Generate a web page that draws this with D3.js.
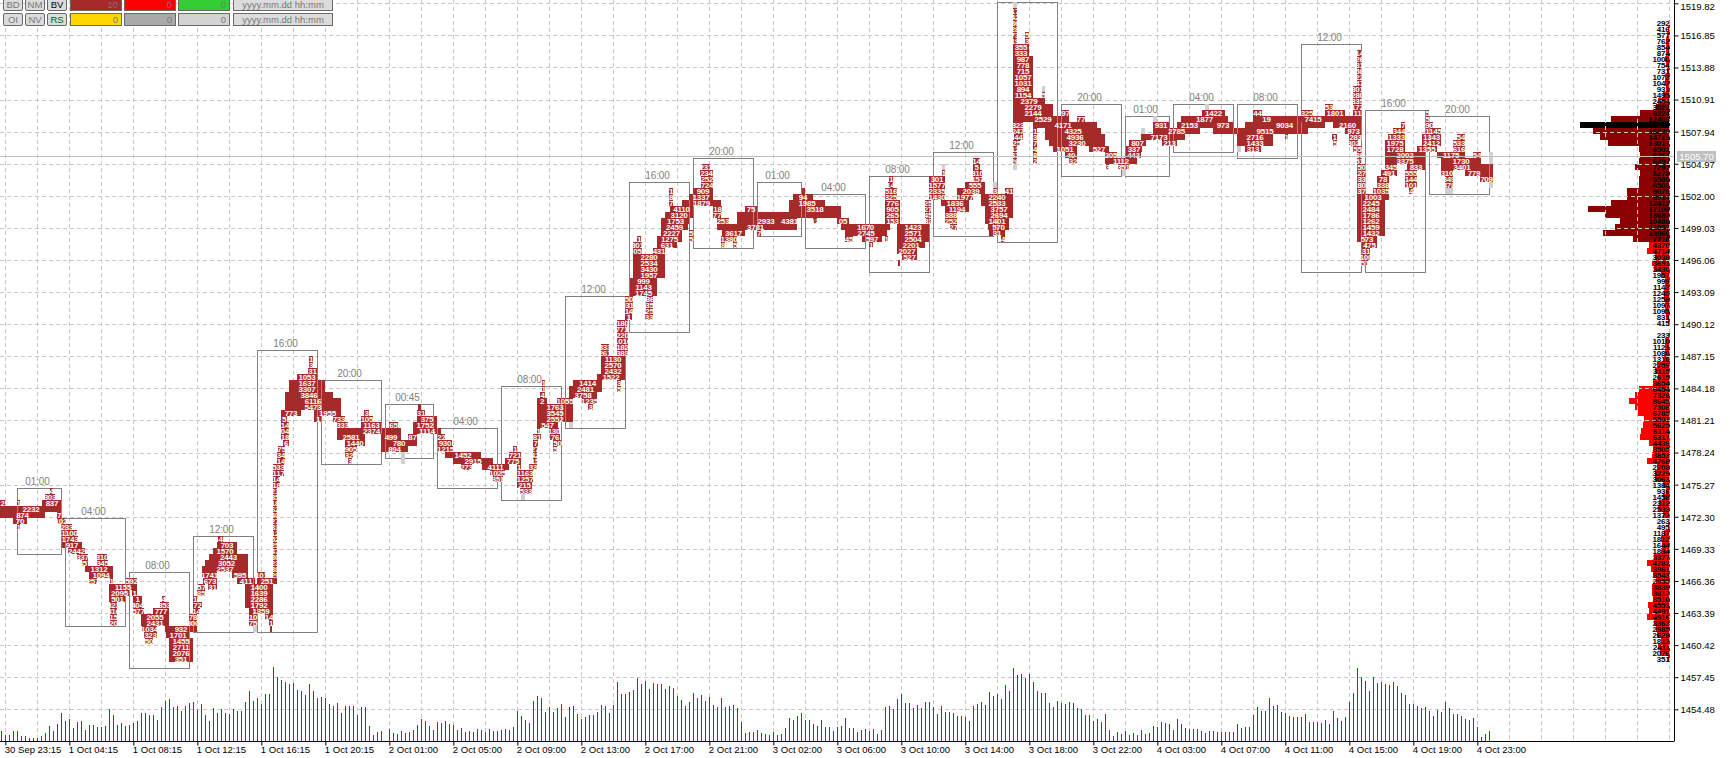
<!DOCTYPE html>
<html><head><meta charset="utf-8">
<script src="https://cdnjs.cloudflare.com/ajax/libs/d3/7.8.5/d3.min.js"></script>
<style>html,body{margin:0;padding:0;background:#fff;overflow:hidden}svg{display:block}text{font-family:"Liberation Sans",Arial,sans-serif}</style>
</head><body><svg id="c" width="1730" height="758"></svg>
<script>
// ---------- price axis
const priceTicks=[1519.82,1516.85,1513.88,1510.91,1507.94,1504.97,1502.00,1499.03,1496.06,1493.09,1490.12,1487.15,1484.18,1481.21,1478.24,1475.27,1472.30,1469.33,1466.36,1463.39,1460.42,1457.45,1454.48];
const bidPrice=1505.70;
const levelZeroPrice=1508.557, levelStep=0.5553;
// ---------- time axis (bar numbers and their labels)
const timeTickBars=[1,17,33,49,65,81,97,113,129,145,161,177,193,209,225,241,257,273,289,305,321,337,353,369];
const timeTickLabels=["30 Sep 23:15","1 Oct 04:15","1 Oct 08:15","1 Oct 12:15","1 Oct 16:15","1 Oct 20:15","2 Oct 01:00","2 Oct 05:00","2 Oct 09:00","2 Oct 13:00","2 Oct 17:00","2 Oct 21:00","3 Oct 02:00","3 Oct 06:00","3 Oct 10:00","3 Oct 14:00","3 Oct 18:00","3 Oct 22:00","4 Oct 03:00","4 Oct 07:00","4 Oct 11:00","4 Oct 15:00","4 Oct 19:00","4 Oct 23:00"];
// ---------- volume per bar
const volumes=[29,19,17,29,31,14,14,8,10,8,14,23,44,29,50,83,59,66,40,56,59,32,47,47,41,42,44,96,77,47,54,45,47,55,59,83,84,77,78,62,101,120,125,102,106,90,105,113,116,92,112,77,59,99,83,96,85,80,95,89,89,116,149,120,130,112,142,140,221,193,184,176,172,174,154,149,137,170,149,129,132,129,110,104,114,83,104,106,106,79,101,101,44,17,26,29,0,35,
24,22,31,25,28,34,49,67,61,46,34,58,55,61,52,49,34,40,28,31,28,37,34,28,37,31,31,34,37,34,43,91,76,64,55,121,136,130,88,103,88,100,112,73,103,106,82,67,73,79,79,88,109,106,85,109,178,142,142,148,154,190,172,181,157,175,172,172,157,166,160,136,124,106,118,145,130,139,121,133,109,103,130,103,106,109,100,58,25,28,28,34,25,22,19,28,19,22,40,70,64,76,85,64,64,52,46,64,43,43,31,43,46,70,40,40,28,34,37,31,37,22,34,103,106,97,127,142,115,115,
100,109,100,118,118,103,82,106,88,88,85,76,76,73,61,106,112,118,109,148,136,142,127,169,151,220,199,202,190,202,178,151,145,145,115,103,121,115,112,118,115,100,97,79,79,61,67,58,82,34,16,28,22,31,19,25,19,34,22,25,46,43,58,55,52,34,67,52,40,37,37,37,31,25,31,31,28,28,28,28,28,
52,40,43,43,79,103,91,91,130,106,109,88,85,76,73,73,73,82,58,58,58,55,64,52,91,70,61,73,118,145,220,193,181,151,193,175,178,172,169,178,166,145,139,112,112,106,100,103,91,76,94,88,118,100,82,82,76,67,64,70,43,13,22,31];
// ---------- session boxes: label, first bar, last bar, top level, bottom level
const sessions=[["01:00",4,15,61,71],["04:00",16,31,66,83],["08:00",32,47,75,90],["12:00",48,63,69,84],["16:00",64,79,38,84],["20:00",80,95,43,56],["00:45",96,108,47,55],["04:00",109,124,51,60],["08:00",125,140,44,62],["12:00",141,156,29,50],["16:00",157,172,10,34],["20:00",173,188,6,20],["01:00",189,200,10,18],["04:00",201,216,12,20],["08:00",217,232,9,24],["12:00",233,248,5,18],["",249,264,-20,19],["20:00",265,280,-3,8],["01:00",281,292,-1,8],["04:00",293,308,-3,4],["08:00",309,324,-3,5],["12:00",325,340,-13,24],["16:00",341,356,-2,24],["20:00",357,372,-1,11]];
// ---------- footprint rows: price level, from bar, to bar, traded volume label
const footprint=[
[61,12.5,13.25,"4"],[62,11.25,13.75,"303"],[63,10.5,15.5,"837"],[63,0,1.25,"2"],[63,4.25,5,"1"],[64,0,15.5,"2232"],[65,0,11.25,"874"],[65,14.25,15.25,"7"],[66,3.25,6.75,"70"],[66,14.25,16.25,"102"],[67,4.25,5,"1"],[67,15.5,18,"233"],[68,15.5,19.25,"1100"],[69,15.5,19.5,"1743"],[70,15.5,20.5,"917"],[71,17,21.25,"2442"],[72,19.25,22,"337"],[72,24.25,26.75,"310"],[73,20.5,22,"357"],[73,24.25,27,"345"],[74,21.25,28.25,"1312"],[75,22.25,28.25,"1094"],[76,22.25,24.25,"257"],[76,27.5,28.25,"1"],[76,31.5,34.25,"592"],[77,27.25,34.25,"1155"],[78,27.25,32.5,"2095"],[78,33,34.25,"1"],[79,27.25,31.5,"501"],[79,33.25,35.5,"1"],[79,40.5,41.25,"4"],[80,27.5,29.25,"323"],[80,33.25,35.5,"404"],[80,40,42.25,"353"],[81,27.5,29.25,"816"],[81,33.25,36,"577"],[81,38.25,42.25,"777"],[82,27.5,29.25,"15"],[82,35.25,42.25,"2055"],[83,27.5,29.25,"20"],[83,35.25,42.25,"2431"],[84,35.5,39.25,"1034"],[84,41.25,49.25,"932"],[85,36,39.25,"323"],[85,41.5,47.5,"1701"],[86,36.25,38.25,"50"],[86,42.25,48.25,"1455"],[87,42.25,48.25,"2711"],[88,42.25,48.25,"2076"],[89,42.25,48.25,"351"],
[83,47.25,49.25,"300"],[82,47.25,49.25,"78"],[81,48.25,50,"14"],[80,48.25,50.5,"72"],[79,48.25,49.25,"1"],[78,49.25,51.25,"85"],[77,49.5,51.25,"57"],[76,50.75,54.25,"673"],[75,50.5,54.25,"1741"],[74,50.5,62,"2537"],[73,51.25,62,"3052"],[72,52.25,62,"2443"],[71,53.25,59.25,"1570"],[70,54.25,59.25,"703"],[69,54.5,55.75,"4"],[77,52,54.25,"31"],[75,58,62,"595"],[76,59.25,63.75,"411"],[76,64.25,69.25,"251"],[75,64.5,66.25,"101"],[77,61.25,68.25,"1400"],[78,61.25,68.25,"1639"],[79,61.25,68.25,"2286"],[80,61.25,68.25,"1792"],[81,62.25,68.25,"1359"],[82,62.25,64.25,"10"],[82,66.25,68.25,"14"],[83,62.25,64.25,"75"],[83,67.25,68.25,"1"],[84,67.5,68,""],
[61,68.25,69.25,"21"],[62,68.25,69.25,"35"],[63,68.25,69.25,"18"],[64,68.25,69.25,"62"],[65,68.25,69.25,"40"],[66,68.25,69.25,"27"],[67,68.25,69.25,"33"],[68,68.25,69.25,"12"],[69,68.25,69.25,"52"],[70,68.25,69.25,"25"],[71,68.25,69.25,"47"],[72,68.25,69.25,"30"],[73,68.25,69.25,"23"],[74,68.25,69.25,"38"],[75,68.25,69.25,"29"],
[39,77.25,78.25,"1"],[40,77.25,78.25,"3"],[41,77,79.25,"31"],[42,74.25,79.25,"1053"],[43,72.25,81.25,"1637"],[44,72.25,81.25,"3307"],[45,71.25,83.25,"3846"],[46,71.25,85.25,"6116"],[47,71.25,85.25,"5473"],[48,70.25,75.25,"773"],[48,78.5,85.25,"1955"],[49,70.25,71.75,"5"],[49,78.5,80.5,"1"],[49,83.25,86.25,"733"],[50,70.25,72.25,"14"],[50,84.25,87,"333"],[50,90.25,95.5,"1163"],[50,97.25,99.5,"65"],[49,90.25,93.25,"105"],[48,91,92.25,"3"],[51,70.25,72.25,"04"],[51,84.25,90.25,""],[51,90.25,95.5,"2374"],[51,95.5,100.25,""],[52,70.25,72.25,"18"],[52,84.25,91.25,"2581"],[52,95.25,100.25,"499"],[52,102,104.25,"87"],[53,70.75,72.25,"6"],[53,86.25,91.25,"1440"],[53,95.25,104.25,"780"],[54,69.5,71.25,"75"],[54,86.25,89.25,"905"],[54,95.25,102,"894"],[55,69.25,71.25,"34"],[55,86.25,88.25,"32"],[56,69.25,71.25,"14"],[56,87,88,"3"],[57,68.25,71,"533"],[58,68.25,71,"117"],[59,68.25,70,"14"],[60,68.25,70,"18"],
[47,104.5,105.25,""],[48,104.25,106.25,"31"],[49,104.25,109.25,"375"],[50,103.25,109.25,"1752"],[51,103.25,110.25,"1114"],[52,109.5,111.25,"22"],[53,109.5,113,"930"],[54,109.5,113.25,"1215"],[55,111.25,120.25,"1452"],[56,113.25,123.25,"2915"],[57,115.25,118,"273"],[57,120.5,127.25,"4111"],[58,122.5,126.25,"1025"],[59,123.25,125.75,"351"],
[54,128.25,129.25,"1"],[55,127.25,130.25,"721"],[56,126.25,130.25,"775"],[57,129.25,130.25,"1"],[58,129.25,133.25,"1163"],[59,129.25,133.25,"1257"],[60,129.25,133,"215"],[61,130,133,"533"],
[57,132.25,134.25,"33"],[56,133.25,134.25,"15"],[55,133.25,134.25,"42"],[54,133.25,134.25,"27"],[53,133.25,134.5,"7"],[52,133.25,135.25,"81"],[51,134.25,135,"1"],[51,137.25,139.75,"130"],[50,134.25,139.5,"547"],[47,134.25,143.25,"1763"],[48,134.25,143.25,"3545"],[49,134.25,143.25,"2552"],[46,134.25,136.75,"2"],[46,139.25,143.25,"1055"],[45,135,136.25,"4"],[44,135.5,136.25,"1"],[43,135.5,136.25,"1"],[52,137.5,140,"76"],[53,138.25,140.5,"50"],[54,138.25,139.25,"5"],
[45,142.25,149.25,"3758"],[44,142.25,150.5,"2481"],[43,143.25,150.5,"1414"],[46,145.5,149.25,"1235"],[47,147,148.25,"3"],[42,149.25,156.25,"1522"],[41,150.25,156.25,"2432"],[40,150.25,156.25,"2570"],[39,150.25,156.25,"1130"],[38,150.25,152.25,"261"],[38,154.25,157,"383"],[37,150.25,152.25,"333"],[37,154.25,157,"182"],[36,154.25,157,"1010"],[35,154.25,157,"220"],[34,154.25,156.75,"771"],[33,154.25,157,"180"],[43,154.25,155.25,"3"],[44,154.25,155.25,"5"],
[32,156.25,158,"1"],[32,161.25,163.25,"33"],[31,156.25,158.25,"14"],[31,161.5,163.25,"25"],[30,156.5,158.25,"31"],[30,161.5,163.25,"35"],[29,156.25,158.25,"50"],[29,161.75,163.25,"36"],[28,157.5,164.25,"1745"],[27,157.5,164.25,"1143"],[26,157.5,164.25,"999"],[25,158.25,166.25,"1957"],[24,158.25,166.25,"3430"],[23,158.25,166.25,"2534"],[22,158.25,166.25,"2280"],[21,158.25,160.5,"05"],[21,163.25,166.25,"431"],[20,158.25,160.5,"301"],[20,164.25,169.25,"631"],[19,159.25,160.25,"1"],[19,164.25,170.5,"1275"],[18,165.25,170.5,"2227"],[17,165.25,172,"2459"],[16,165.25,172.5,"1753"],[15,166.25,173.25,"3120"],[14,167.5,173.25,"4110"],[13,167.25,168.25,"7"],[12,167.25,168.25,"8"],[11,167.25,168.25,"1"],
[7,175.5,177.5,"231"],[8,175,178.25,"234"],[9,175.25,178.25,"252"],[10,175.25,178.25,"724"],[11,173.25,178.25,"909"],[12,172.25,178.25,"1337"],[13,170.5,180.25,"1879"],[14,178.25,180.5,"18"],[15,178.25,180.25,"77"],[16,179.25,182.25,"253"],[18,172.25,173.25,"5"],[19,172.25,173.25,"5"],
[14,186.25,189.25,"75"],[15,184.25,210.25,""],[16,184.25,187.5,""],[16,187.5,195.5,"2933"],[16,195.5,199.25,"4381"],[17,179.25,187,""],[17,187,190.75,"3781"],[17,190.75,199.25,""],[18,180.5,186.25,"3617"],[18,189.25,190.25,"7"],[19,180.25,184.25,"1380"],[20,180.25,181.25,"8"],[20,183.25,184.25,"5"],[13,197.25,206.25,"1985"],[12,198.25,203.25,"94"],[11,200.5,201.25,""],[14,197.25,210.25,"3518"],[16,203.25,204.25,"12"],[16,209.25,212.25,"05"],[17,210.25,222.5,"1670"],[18,211.25,221.75,"2745"],[19,211.25,213.25,"45"],[19,215.5,220.5,"597"],[19,221.25,222,"1"],[20,217.25,218.25,"1"],
[9,222.25,223.25,"1"],[10,222,223.25,"14"],[11,221.25,224.25,"516"],[12,221.25,224.25,"325"],[13,221.25,225,"776"],[14,221.25,225,"905"],[15,221.25,225,"265"],[16,221.25,225,"153"],[17,224.25,232.25,"1423"],[18,224.25,232.25,"2571"],[19,224.25,232.25,"2504"],[20,224.25,231.25,"2201"],[21,224.25,229.25,"2027"],[22,225.5,229.25,"527"],[23,224.5,225,""],[13,231.25,232.75,"25"],[14,231.25,232.75,"27"],[15,231.25,232.75,"45"],[16,231.5,232.75,"32"],
[8,235.5,236.25,"1"],[9,232.25,236.25,"301"],[10,232.25,236.25,"1577"],[11,232.25,236.25,"2335"],[12,232.25,236.25,"1430"],[13,235.25,242.25,"1836"],[14,236.25,242.25,"1194"],[15,236.25,239.25,"388"],[16,236.25,239.25,"252"],[17,237.5,239.25,"27"],[12,239.25,243.25,"1977"],[11,239.25,246.25,"2039"],[10,241.25,246.25,"555"],[9,243.25,245.5,"157"],[8,243.25,245.5,"310"],[7,243.25,245,"5"],[6,243.25,245,"14"],
[12,245.25,253.25,"2240"],[13,245.25,253.25,"2533"],[14,246.25,253.25,"3757"],[15,246.25,253.25,"2694"],[16,246.25,252.25,"1401"],[17,247,252.25,"570"],[18,247.25,251.25,"31"],[19,250.25,251.25,"4"],[11,248.25,249.25,"3"],[11,251.25,253.25,"41"],
[-19,253.25,254.25,"17"],[-18,253.25,254.25,"42"],[-17,253.25,254.25,"36"],[-16,253.25,254.25,"28"],[-15,253.25,254.25,"73"],[-14,253.25,254.25,"19"],[-15,256.25,257.25,"5"],[-14,256.25,257.25,"3"],[-13,253.25,257.25,"355"],[-12,253.25,257.25,"333"],[-11,253.25,258.25,"987"],[-10,253.25,258.25,"778"],[-9,253.25,258.25,"715"],[-8,253.25,258.25,"1057"],[-7,253.25,258.25,"1031"],[-6,253.25,258.25,"894"],[-5,253.25,258.25,"1154"],[-5,260.5,261.25,"5"],[-4,253.25,261.25,"2379"],[-3,253.25,263.25,"2279"],[-2,253.25,263.25,"2144"],[-2,265.5,267.25,"97"],[-1,253.25,258.25,""],[-1,258.25,263.25,"2529"],[-1,263.25,267.25,""],[-1,269.25,271.25,"77"],
[0,253.25,255.75,"323"],[0,258.25,262.25,""],[0,262.25,269.25,"4171"],[0,269.25,274.25,""],[1,253.25,255.75,"247"],[1,258.25,259.25,"1"],[1,261.25,275.25,"4325"],[2,253.5,255.75,"44"],[2,258.25,259.25,"3"],[2,261.25,276.25,"4936"],[3,253.25,255,"25"],[3,258.25,259.25,"7"],[3,262.25,276.25,"3230"],[4,253.25,254.25,"12"],[4,258.25,259.25,"4"],[4,263.25,269.25,"1051"],[4,272.25,277.25,"527"],[5,253.25,254.25,"31"],[5,258.25,259.25,"8"],[5,266.25,269.25,"40"],[5,276.25,279.25,"205"],[6,253.25,254.25,"26"],[6,258.25,259.25,"2"],[6,267.25,269.25,"32"],[6,276.25,284.25,"1112"],[7,276.5,277.25,"3"],[7,279.5,282.25,"351"],
[5,281.5,285.25,"443"],[4,281.5,285.5,"337"],[3,282.25,286.5,"807"],[3,290.5,294.25,"213"],[2,285.25,294.25,"7173"],[2,294.25,296.25,""],[1,288.25,300,"2785"],[0,288.25,292.25,"931"],[0,294.25,300.5,"2153"],[0,300.5,303.25,""],[0,303.25,308.25,"973"],[-1,295.25,307,"1877"],[-2,300.5,306.25,"1422"],[1,303.25,306.25,""],[1,306.25,312.5,""],[1,312.5,320,"9515"],
[0,311.25,316.75,""],[0,316.75,325.5,"9034"],[0,325.5,331.25,""],[-1,313.25,320,"19"],[-2,313.25,315.5,"44"],[2,309.25,318.25,"2716"],[3,309.25,318.25,"1433"],[4,311.25,315.25,"313"],[1,320,327,""],
[-2,325.25,328.25,"325"],[-2,331.25,336.25,"1801"],[-3,331.25,333.25,"53"],[-1,320,325.25,""],[-1,325.25,331.25,"7415"],[-1,331.25,340.25,""],[0,333.25,340.5,"2160"],[1,336.25,340.5,"973"],[2,321.25,322,"1"],[2,333,334.25,"1"],[2,337.25,340.5,"283"],[3,333.25,334.25,"5"],[3,337.25,339.5,"302"],[4,338.25,340.5,"55"],
[-12,339.25,340.5,"14"],[-11,339.25,340.5,"26"],[-10,339.25,340.5,"31"],[-9,339.25,340.5,"58"],[-8,339.25,340.5,"22"],[-7,339.25,340.5,"47"],[-6,338.25,340.5,"301"],[-5,338.25,340.5,"280"],[-4,338.25,340.5,"335"],[-3,338.25,340.5,"172"],[-2,338.25,340.5,"11"],[5,339.25,340.5,"36"],[6,339.25,340.5,"51"],[7,339.25,341.5,"50"],[8,339.25,341.5,"27"],[9,339.25,341.5,"33"],[10,339.25,341.5,"80"],[11,339.25,341.5,"37"],[12,339.25,347.25,"1003"],[13,339.25,346.25,"2245"],[14,339.25,346.25,"2484"],[15,339.25,346.25,"1786"],[16,339.25,346.25,"1262"],[17,339.25,346.25,"1459"],[18,339.25,346.25,"1432"],[19,339.25,344.25,"573"],[20,340.5,344.25,"475"],[21,340.5,342.5,"31"],[22,340.5,342.5,"100"],[23,340.5,342,"51"],
[9,344.25,347.25,"78"],[10,344.25,347.25,"338"],[11,343.25,347.25,"1035"],[7,346.25,349.25,"345"],[8,345.25,349.25,"491"],[3,346.25,351.25,"1975"],[4,346.25,351.25,"1728"],[2,347,351.25,"1333"],[1,348.25,351.25,"344"],[0,350.25,351.25,"7"],[5,346.25,356.25,"2002"],[6,346.25,356.25,"3375"],[7,351.75,356.25,"833"],[8,351.25,354.25,"555"],[9,351.25,354.25,"144"],[10,351.25,354.25,"101"],[11,352.25,353.25,"4"],
[4,354.25,359.25,"1355"],[3,355.5,360.25,"2412"],[2,355.5,360.25,"1343"],[1,356.5,360.25,"1145"],[0,356.5,358.25,"90"],[-1,356.5,357.25,"5"],[-2,356.5,357.25,"5"],[5,359.25,366.25,"1175"],[5,368.25,370.25,"54"],[6,360.25,370.25,"1730"],[7,360.25,370.75,"3401"],[8,360.25,363.25,"310"],[8,366.25,370.75,"779"],[9,361.25,363.25,"349"],[10,361.25,363.25,"478"],[2,364.25,366.25,"54"],[3,363.25,366.25,"533"],[4,363.25,366.25,"616"],[7,370.75,373.25,""],[8,370.75,373.25,""],[9,370,373.25,"709"]
];
// ---------- small light-grey markers: level, from bar, to bar
const greyMarks=[[84,63.25,64.25],[55,100.25,101.25],[56,100.25,101.25],[62,130.25,131.25],[50,142.25,143.25],[7,235.5,236.25],[10,248.25,249.25],[-6,260.5,261.25],[-20,253.25,254.25],[7,253.25,254.25],[8,280.5,281.5],[1,285.25,286.25],[-1,288.25,289.25],[-3,301.25,302.25],[4,309.25,310.25],[11,361.25,363.25],[10,372.25,373.25],[5,372.25,373.25],[6,372.25,373.25]];
// ---------- volume profile at the right edge
const profileLevels=[-17,-16,-15,-14,-13,-12,-11,-10,-9,-8,-7,-6,-5,-4,-3,-2,-1,0,1,2,3,4,5,6,7,8,9,10,11,12,13,14,15,16,17,18,19,20,21,22,23,24,25,26,27,28,29,30,31,32,33,35,36,37,38,39,40,41,42,43,44,45,46,47,48,49,50,51,52,53,54,55,56,57,58,59,60,61,62,63,64,65,66,67,68,69,70,71,72,73,74,75,76,77,78,79,80,81,82,83,84,85,86,87,88,89];
const profileVolumes=[292,416,577,762,854,874,1000,754,731,1073,1047,931,1495,2454,3022,6224,12403,18742,16220,14713,13017,6502,6264,6497,7297,6278,6580,6503,9079,8914,12419,17109,13687,10480,11557,13960,7718,4370,4714,3038,3691,3430,1957,999,1143,1245,1258,1097,1095,831,415,233,1010,1121,1080,1310,2759,3115,2615,3654,6454,7328,8645,7308,6785,5501,5625,6114,6317,4439,3505,3853,4768,2708,3229,3063,1384,936,1458,2312,2533,1372,263,495,1187,1812,1644,1834,3377,4782,3961,3543,2955,3839,3817,3510,4553,4491,4916,3363,2985,2628,1812,2411,2076,351];
const valueAreaTop=-3, valueAreaBottom=19;
// ---------- control panel
const panelButtons=[["BD","NM","BV"],["OI","NV","RS"]];
const panelFields=[[["10","#a52a2a"],["0","#ff0000"],["0","#32cd32"]],[["0","#ffd700"],["0","#a9a9a9"],["0","#d3d3d3"]]];
const panelDate="yyyy.mm.dd hh:mm";

const svg=d3.select("#c");
const W=1730,H=758,axisX=1674,axisY=741;
const x=d3.scaleLinear().domain([0,W/4]).range([0,W]);
const y=d3.scaleLinear().domain([priceTicks[0],priceTicks[priceTicks.length-1]]).range([3.3,709.3]);
const lvl=l=>y(levelZeroPrice-l*levelStep);
const rowTop=l=>Math.round(lvl(l-0.5));
const barX=i=>Math.floor(x(i+1/3));
const volY=d3.scaleLinear().domain([0,222]).range([axisY,axisY-74]);
const profW=d3.scaleLinear().domain([0,18742]).range([0,89.5]);
const profRight=barX(417)+1;

// profile (below the grid)
const prof=profileLevels.map((l,i)=>({l,v:profileVolumes[i]}));
const maxV=d3.max(profileVolumes);
svg.append("g").selectAll("rect").data(prof).join("rect")
 .attr("x",d=>profRight-Math.max(1,Math.round(profW(d.v)))).attr("y",d=>rowTop(d.l))
 .attr("width",d=>Math.max(1,Math.round(profW(d.v)))).attr("height",6)
 .attr("fill",d=>d.v===maxV?"#000":(d.l>=valueAreaTop&&d.l<=valueAreaBottom?"#8b0000":"#ff0000"));

// grid
const grid=svg.append("g").attr("stroke","#c8c8c8").attr("stroke-dasharray","4 3").attr("fill","none");
priceTicks.forEach(p=>grid.append("line").attr("x1",0).attr("x2",axisX).attr("y1",Math.round(y(p))+.5).attr("y2",Math.round(y(p))+.5));
d3.range(1,418,8).forEach(b=>grid.append("line").attr("x1",barX(b)+.5).attr("x2",barX(b)+.5).attr("y1",0).attr("y2",axisY));

// volumes
svg.append("g").selectAll("rect").data(volumes).join("rect")
 .attr("x",(d,i)=>barX(i)).attr("width",1).attr("y",d=>Math.round(volY(d))).attr("height",d=>axisY-Math.round(volY(d))).attr("fill","#007300");

// session boxes
const boxG=svg.append("g");
sessions.forEach(s=>{
  const x0=barX(s[1])+.5,x1=barX(s[2])+.5,y0=rowTop(s[3])+.5,y1=rowTop(s[4]+1)+.5;
  boxG.append("rect").attr("x",x0).attr("y",y0).attr("width",x1-x0).attr("height",y1-y0).attr("fill","none").attr("stroke","#808080");
  if(s[0]) boxG.append("text").attr("x",(x0+x1)/2-2).attr("y",y0-4).attr("text-anchor","middle").attr("font-size",10).attr("letter-spacing",-.1).attr("fill","#808080").text(s[0]);
});

// grey markers
svg.append("g").selectAll("rect").data(greyMarks).join("rect")
 .attr("x",d=>x(d[1])).attr("width",d=>x(d[2])-x(d[1])).attr("y",d=>rowTop(d[0])).attr("height",6).attr("fill","#d0d0d0");

// footprint rows
const fp=svg.append("g");
fp.selectAll("rect").data(footprint).join("rect")
 .attr("x",d=>Math.round(x(d[1]))).attr("width",d=>Math.round(x(d[2]))-Math.round(x(d[1]))).attr("y",d=>rowTop(d[0])).attr("height",6).attr("fill","#a52a2a");
// session edges show through the rows
const edge=svg.append("g").attr("fill","#e26a6a");
sessions.forEach(s=>{[s[1],s[2]].forEach(b=>{
  const ex=barX(b);
  footprint.filter(r=>x(r[1])<ex&&x(r[2])>ex&&r[0]>=s[3]&&r[0]<=s[4]).forEach(r=>{
    edge.append("rect").attr("x",ex).attr("y",rowTop(r[0])).attr("width",1).attr("height",6);
  });
});});
// footprint labels
svg.append("g").attr("font-size",8).attr("font-weight","bold").attr("letter-spacing",-.2).attr("fill","#fff").attr("text-anchor","middle")
 .selectAll("text").data(footprint.filter(d=>d[3])).join("text")
 .attr("x",d=>(x(d[1])+x(d[2]))/2).attr("y",d=>rowTop(d[0])+6).text(d=>d[3]);
// profile labels
svg.append("g").attr("font-size",8).attr("font-weight","bold").attr("letter-spacing",-.2).attr("fill","#000").attr("text-anchor","end")
 .selectAll("text").data(prof).join("text").attr("x",profRight-.5).attr("y",d=>rowTop(d.l)+6).text(d=>d.v);

// bid line
svg.append("line").attr("x1",0).attr("x2",axisX).attr("y1",Math.round(y(bidPrice))+.5).attr("y2",Math.round(y(bidPrice))+.5).attr("stroke","#c0c0c0");

// axes
const yAxis=svg.append("g").attr("transform",`translate(${axisX+.5},0)`).call(d3.axisRight(y).tickValues(priceTicks).tickFormat(d3.format(".2f")).tickSize(4).tickPadding(2));
yAxis.selectAll("text").attr("font-size",9.5).attr("fill","#000").attr("font-family",'"Liberation Sans"').attr("dy",(d,i)=>i===0?"0.62em":"0.36em");
yAxis.selectAll("line").attr("stroke","#000");
yAxis.select(".domain").attr("stroke","#000").attr("d",`M0,0V${axisY+.5}`);
const xAxis=svg.append("g").attr("transform",`translate(0,${axisY+.5})`).call(d3.axisBottom(x).tickValues(timeTickBars.map(b=>b+1/3)).tickFormat((d,i)=>timeTickLabels[i]).tickSize(4).tickPadding(1));
xAxis.selectAll("text").attr("font-size",9.5).attr("fill","#000").attr("font-family",'"Liberation Sans"').attr("text-anchor","start").attr("dx",-1).attr("dy","0.71em");
xAxis.selectAll("line").attr("stroke","#000");
xAxis.select(".domain").attr("stroke","#000").attr("d",`M0,0H${axisX}`);

// bid tag
svg.append("rect").attr("x",1677).attr("y",151).attr("width",39).attr("height",11).attr("fill","#c0c0c0");
svg.append("text").attr("x",1696.5).attr("y",160).attr("text-anchor","middle").attr("font-size",9.5).attr("fill","#fff").text(bidPrice.toFixed(2));

// control panel
const panel=svg.append("g");
const rowY=[-2,13],rowH=[13,13];
panelButtons.forEach((row,r)=>row.forEach((t,c)=>{
  const bx=3+22*c;
  panel.append("rect").attr("x",bx+.5).attr("y",rowY[r]+.5).attr("width",19).attr("height",rowH[r]-1).attr("rx",1.5).attr("fill","#dcdcdc").attr("stroke","#696969");
  panel.append("text").attr("x",bx+10).attr("y",rowY[r]+10).attr("text-anchor","middle").attr("font-size",9.5).attr("fill",t==="BV"?"#000":t==="RS"?"#006400":"#777").text(t);
}));
panelFields.forEach((row,r)=>row.forEach((f,c)=>{
  const fx=70+54*c;
  panel.append("rect").attr("x",fx+.5).attr("y",rowY[r]+.5).attr("width",51).attr("height",rowH[r]-1).attr("fill",f[1]).attr("stroke","#696969");
  panel.append("text").attr("x",fx+48).attr("y",rowY[r]+10).attr("text-anchor","end").attr("font-size",9.5).attr("fill","#777").text(f[0]);
}));
[0,1].forEach(r=>{
  panel.append("rect").attr("x",233.5).attr("y",rowY[r]+.5).attr("width",99).attr("height",rowH[r]-1).attr("fill","#dcdcdc").attr("stroke","#696969");
  panel.append("text").attr("x",283).attr("y",rowY[r]+10).attr("text-anchor","middle").attr("font-size",9.5).attr("fill","#777").text(panelDate);
});
</script></body></html>
